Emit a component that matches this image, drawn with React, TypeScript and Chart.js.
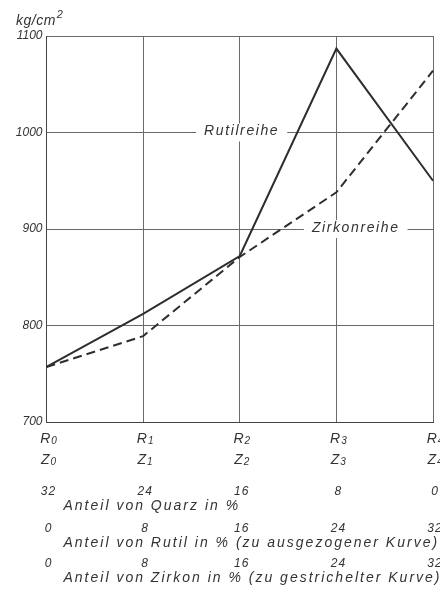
import React, { useEffect, useRef } from "react";
import { Chart, registerables } from "chart.js";

Chart.register(...registerables);

// ---- data ----
const columnIndex = ["0", "1", "2", "3", "4"];
const rutilreihe = [757, 812, 872, 1087, 950];
const zirkonreihe = [757, 789, 871, 938, 1064];
const yMin = 700;
const yMax = 1100;
const yStep = 100;
const quarzPct = ["32", "24", "16", "8", "0"];
const rutilPct = ["0", "8", "16", "24", "32"];
const zirkonPct = ["0", "8", "16", "24", "32"];
const unitLabel = "kg/cm";
const unitExp = "2";
const captions = [
  "Anteil von Quarz in %",
  "Anteil von Rutil in % (zu ausgezogener Kurve)",
  "Anteil von Zirkon in % (zu gestrichelter Kurve)",
];
const curveNames = ["Rutilreihe", "Zirkonreihe"];
const curveNameAnchorX = [2.02, 3.2];
const curveNameAnchorY = [1000, 900];

// ---- style ----
const FONT = '"Liberation Sans", Arial, sans-serif';
const INK = "#333333";
const LINE = "#2e2e2e";
const GRID = "#6a6a6a";

function spaced(ctx: CanvasRenderingContext2D, spacing: number) {
  (ctx as any).letterSpacing = spacing + "px";
}

const annotations = {
  id: "annotations",
  beforeDatasetsDraw(chart: any) {
    const { ctx, scales } = chart;
    const x = scales.x;
    const y = scales.y;
    ctx.save();
    ctx.font = `italic 14px ${FONT}`;
    spaced(ctx, 1.6);
    ctx.textBaseline = "middle";
    ctx.textAlign = "center";
    curveNames.forEach((name, i) => {
      const px = x.getPixelForValue(curveNameAnchorX[i]);
      const py = y.getPixelForValue(curveNameAnchorY[i]);
      const w = ctx.measureText(name).width;
      ctx.fillStyle = "#ffffff";
      ctx.fillRect(px - w / 2 - 8, py - 9, w + 16, 18);
      ctx.fillStyle = INK;
      ctx.fillText(name, px, py - 1);
    });
    ctx.restore();
  },
  afterDraw(chart: any) {
    const { ctx, scales, chartArea } = chart;
    const x = scales.x;
    const bottom = chartArea.bottom;
    ctx.save();
    ctx.fillStyle = INK;
    ctx.textBaseline = "middle";

    // R / Z column labels with small index digit
    const drawIndexed = (letter: string, idx: string, cx: number, cy: number) => {
      spaced(ctx, 0);
      ctx.font = `italic 14px ${FONT}`;
      const wl = ctx.measureText(letter).width;
      ctx.font = `italic 10px ${FONT}`;
      const wd = ctx.measureText(idx).width;
      const start = cx - (wl + wd + 1) / 2 + 2;
      ctx.textAlign = "left";
      ctx.font = `italic 14px ${FONT}`;
      ctx.fillText(letter, start, cy);
      ctx.font = `italic 10px ${FONT}`;
      ctx.fillText(idx, start + wl + 1, cy + 2);
    };
    columnIndex.forEach((idx, i) => {
      const cx = x.getPixelForValue(i);
      drawIndexed("R", idx, cx, bottom + 17);
      drawIndexed("Z", idx, cx, bottom + 38);
    });

    // percentage rows
    const rows = [quarzPct, rutilPct, zirkonPct];
    const rowY = [70, 107, 142];
    ctx.font = `italic 12px ${FONT}`;
    ctx.textAlign = "center";
    rows.forEach((row, r) => {
      spaced(ctx, 1);
      row.forEach((v, i) => {
        ctx.fillText(v, x.getPixelForValue(i) + 2, bottom + rowY[r]);
      });
    });

    // captions
    ctx.textAlign = "left";
    ctx.font = `italic 14px ${FONT}`;
    captions.forEach((c, r) => {
      spaced(ctx, 2);
      ctx.fillText(c, chartArea.left + 17, bottom + rowY[r] + 14);
    });

    // unit label
    spaced(ctx, 0.5);
    ctx.font = `italic 14px ${FONT}`;
    ctx.textAlign = "left";
    ctx.fillText(unitLabel, 16, 21);
    const wu = ctx.measureText(unitLabel).width;
    ctx.font = `italic 11px ${FONT}`;
    ctx.fillText(unitExp, 16 + wu + 1, 15);
    ctx.restore();
  },
};

export default function App() {
  const ref = useRef<HTMLCanvasElement | null>(null);
  useEffect(() => {
    if (!ref.current) return;
    const chart = new Chart(ref.current, {
      type: "line",
      data: {
        labels: columnIndex,
        datasets: [
          {
            label: curveNames[0],
            data: rutilreihe,
            borderColor: LINE,
            borderWidth: 2,
            pointRadius: 0,
            tension: 0,
            fill: false,
          },
          {
            label: curveNames[1],
            data: zirkonreihe,
            borderColor: LINE,
            borderWidth: 2,
            borderDash: [9, 5],
            pointRadius: 0,
            tension: 0,
            fill: false,
          },
        ],
      },
      options: {
        responsive: false,
        animation: false,
        layout: { padding: { top: 36, right: 7, left: 0, bottom: 0 } },
        plugins: { legend: { display: false }, tooltip: { enabled: false } },
        scales: {
          x: {
            offset: false,
            grid: { color: GRID, lineWidth: 1, drawTicks: false },
            border: { color: "#444", width: 1 },
            ticks: { display: false },
            afterFit: (s: any) => {
              s.height = 170;
            },
          },
          y: {
            min: yMin,
            max: yMax,
            ticks: {
              stepSize: yStep,
              padding: 4,
              color: INK,
              font: { family: FONT, size: 12, style: "italic" },
              callback: (v: any) => String(v),
            },
            grid: { color: GRID, lineWidth: 1, drawTicks: false },
            border: { color: "#444", width: 1 },
            afterFit: (s: any) => {
              s.width = 46.5;
            },
          },
        },
      },
      plugins: [annotations],
    });
    return () => chart.destroy();
  }, []);
  return (
    <canvas
      ref={ref}
      width={440}
      height={592}
      style={{ position: "absolute", left: 0, top: 0, background: "#fff" }}
    />
  );
}
